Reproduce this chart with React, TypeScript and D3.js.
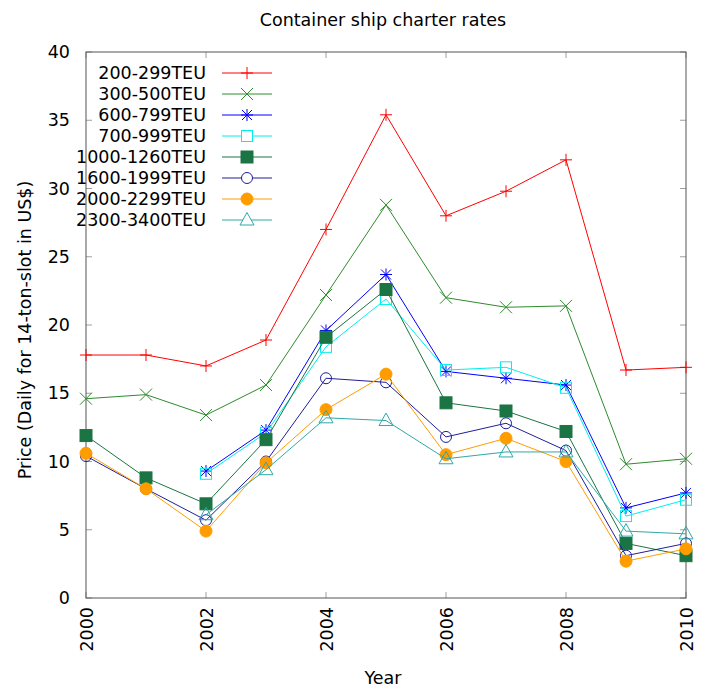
import React from "react";
import * as d3 from "d3";

const years = [2000, 2001, 2002, 2003, 2004, 2005, 2006, 2007, 2008, 2009, 2010];
const seriesNames = ["200-299TEU", "300-500TEU", "600-799TEU", "700-999TEU", "1000-1260TEU", "1600-1999TEU", "2000-2299TEU", "2300-3400TEU"];
const s200 = [17.8, 17.8, 17.0, 18.9, 27.0, 35.4, 28.0, 29.8, 32.1, 16.7, 16.9];
const s300 = [14.6, 14.9, 13.4, 15.6, 22.2, 28.8, 22.0, 21.3, 21.4, 9.8, 10.2];
const s600 = [null, null, 9.3, 12.3, 19.6, 23.7, 16.6, 16.1, 15.6, 6.6, 7.7];
const s700 = [null, null, 9.1, 12.1, 18.4, 21.9, 16.7, 16.9, 15.4, 6.0, 7.2];
const s1000 = [11.9, 8.8, 6.9, 11.6, 19.1, 22.6, 14.3, 13.7, 12.2, 4.0, 3.1];
const s1600 = [10.4, 8.0, 5.7, 10.0, 16.1, 15.8, 11.8, 12.8, 10.8, 3.1, 4.0];
const s2000 = [10.6, 8.0, 4.9, 9.9, 13.8, 16.4, 10.5, 11.7, 10.0, 2.7, 3.6];
const s2300 = [null, null, 6.1, 9.4, 13.2, 13.0, 10.2, 10.7, 10.7, 4.9, 4.7];
const seriesValues = [s200, s300, s600, s700, s1000, s1600, s2000, s2300];
const seriesColors = ["#ff0000", "#2e8b2e", "#0000ff", "#00eeee", "#1b7443", "#1f1f9a", "#ff9c00", "#30a8a8"];
const seriesMarkers = ["plus", "cross", "star", "square", "fsquare", "circle", "fcircle", "triangle"];
const yTicks = [0, 5, 10, 15, 20, 25, 30, 35, 40];
const xTicks = [2000, 2002, 2004, 2006, 2008, 2010];

const FONT = "'DejaVu Sans', sans-serif";
const FS = 17.5;

function Marker({ type, x, y, color, legend }: { type: string; x: number; y: number; color: string; legend?: boolean }) {
  const sw = 1;
  switch (type) {
    case "plus":
      return (
        <g stroke={color} strokeWidth={sw}>
          <line x1={x - 6} x2={x + 6} y1={y} y2={y} />
          <line x1={x} x2={x} y1={y - 6} y2={y + 6} />
        </g>
      );
    case "cross":
      return (
        <g stroke={color} strokeWidth={sw}>
          <line x1={x - 6} x2={x + 6} y1={y - 6} y2={y + 6} />
          <line x1={x - 6} x2={x + 6} y1={y + 6} y2={y - 6} />
        </g>
      );
    case "star":
      return (
        <g stroke={color} strokeWidth={sw}>
          <line x1={x - 6} x2={x + 6} y1={y} y2={y} />
          <line x1={x} x2={x} y1={y - 6} y2={y + 6} />
          <line x1={x - 5} x2={x + 5} y1={y - 5} y2={y + 5} />
          <line x1={x - 5} x2={x + 5} y1={y + 5} y2={y - 5} />
        </g>
      );
    case "square":
      return <rect x={x - 5.5} y={y - 5.5} width={11} height={11} fill={legend ? "white" : "none"} stroke={color} strokeWidth={sw} />;
    case "fsquare":
      return <rect x={x - 6} y={y - 6} width={12} height={12} fill={color} stroke={color} strokeWidth={sw} />;
    case "circle":
      return <circle cx={x} cy={y} r={5.5} fill={legend ? "white" : "none"} stroke={color} strokeWidth={sw} />;
    case "fcircle":
      return <circle cx={x} cy={y} r={6} fill={color} stroke={color} strokeWidth={sw} />;
    case "triangle":
      return <path d={`M${x},${y - 7.5}L${x + 7},${y + 5}L${x - 7},${y + 5}Z`} fill={legend ? "white" : "none"} stroke={color} strokeWidth={sw} />;
  }
  return null;
}

export default function App() {
  const W = 706, H = 687;
  const left = 86, right = 686, top = 52, bottom = 598;
  const x = d3.scaleLinear().domain([2000, 2010]).range([left, right]);
  const y = d3.scaleLinear().domain([0, 40]).range([bottom, top]);
  const line = d3
    .line<number | null>()
    .defined((d) => d !== null)
    .x((_, i) => x(years[i]))
    .y((d) => y(d as number));

  const tickColor = "#a0a0a0";
  return (
    <svg width={W} height={H} style={{ position: "absolute", left: 0, top: 0, background: "white" }}>
      <rect x={0} y={0} width={W} height={H} fill="white" />
      <text x={383} y={26} textAnchor="middle" fontFamily={FONT} fontSize={FS} fill="#000">
        Container ship charter rates
      </text>
      {yTicks.map((t) => (
        <g key={"y" + t}>
          <line x1={left} x2={left + 6} y1={y(t)} y2={y(t)} stroke={tickColor} />
          <line x1={right} x2={right - 6} y1={y(t)} y2={y(t)} stroke={tickColor} />
          <text x={70} y={y(t) + 6} textAnchor="end" fontFamily={FONT} fontSize={FS} fill="#000">
            {t}
          </text>
        </g>
      ))}
      {xTicks.map((t) => (
        <g key={"x" + t}>
          <line x1={x(t)} x2={x(t)} y1={bottom} y2={bottom - 6} stroke={tickColor} />
          <line x1={x(t)} x2={x(t)} y1={top} y2={top + 6} stroke={tickColor} />
          <text
            transform={`translate(${x(t) + 6.5},${607}) rotate(-90)`}
            textAnchor="end"
            fontFamily={FONT}
            fontSize={FS}
            fill="#000"
          >
            {t}
          </text>
        </g>
      ))}
      <rect x={left} y={top} width={right - left} height={bottom - top} fill="none" stroke="#555" strokeWidth={1} />
      <text x={383} y={684} textAnchor="middle" fontFamily={FONT} fontSize={FS} fill="#000">
        Year
      </text>
      <text transform={`translate(31,${330}) rotate(-90)`} textAnchor="middle" fontFamily={FONT} fontSize={FS} fill="#000">
        Price (Daily for 14-ton-slot in US$)
      </text>
      {seriesValues.map((vals, si) => (
        <g key={"s" + si}>
          <path d={line(vals) || ""} fill="none" stroke={seriesColors[si]} strokeWidth={1} />
          {vals.map((v, i) =>
            v === null ? null : <Marker key={i} type={seriesMarkers[si]} x={x(years[i])} y={y(v)} color={seriesColors[si]} />
          )}
        </g>
      ))}
      {seriesNames.map((name, si) => {
        const ly = 73 + si * 21;
        return (
          <g key={"l" + si}>
            <text x={206} y={ly + 6} textAnchor="end" fontFamily={FONT} fontSize={FS} fill="#000">
              {name}
            </text>
            <line x1={222} x2={272} y1={ly} y2={ly} stroke={seriesColors[si]} strokeWidth={1} />
            <Marker type={seriesMarkers[si]} x={247} y={ly} color={seriesColors[si]} legend />
          </g>
        );
      })}
    </svg>
  );
}
